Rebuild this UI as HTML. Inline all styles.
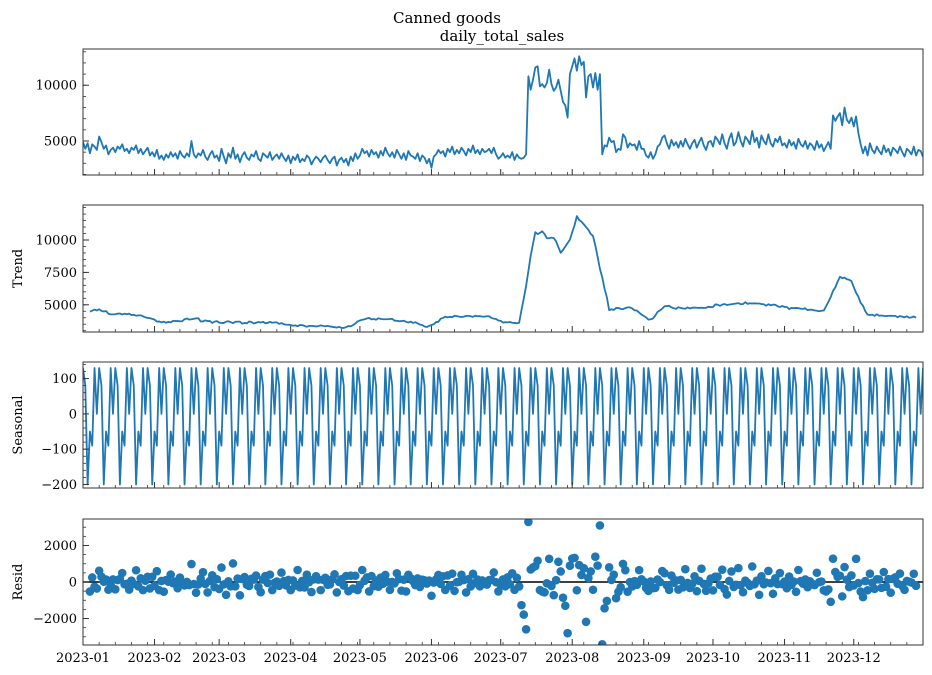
<!DOCTYPE html>
<html><head><meta charset="utf-8"><style>
body{margin:0;background:#fff}
svg{display:block;font-family:"DejaVu Serif","Liberation Serif",serif}
</style></head><body>
<svg id="c" width="932" height="675" viewBox="0 0 932 675">
<text x="447" y="23" font-size="15" text-anchor="middle">Canned goods</text>
<text x="502" y="41" font-size="15" text-anchor="middle">daily_total_sales</text>
</svg>
<script>
const observed = [
4900,4300,4800,3900,4700,4500,4200,5400,4900,4300,4600,3800,4200,4400,4000,4500,4300,4700,4100,4300,3900,4400,4200,4600,3900,4300,3800,4100,4400,3700,4000,
3600,4200,3400,3700,3300,3800,3500,4000,3600,3900,3400,4100,3700,3500,3900,3600,5000,3800,3500,3900,3700,4200,3600,3300,3800,4100,3500,3700,
3200,4300,3600,3000,3900,3500,4400,3400,3800,3100,3700,4000,3500,3300,3800,3600,4100,3400,3200,3900,3700,3500,4000,3300,3600,3800,3400,3900,3500,3200,3700,
3000,3600,3300,3800,3100,3400,3200,3700,3500,2900,3300,3600,3400,3100,3500,3700,3300,3000,3400,3600,2800,3300,3500,3100,3400,2800,3600,3200,3900,3400,
3700,4300,3900,4100,3600,4200,3800,4000,3500,4100,3700,4400,3900,3600,4000,3500,4200,3800,3400,3900,3300,4100,3700,3600,3400,3900,3200,3700,3500,3000,3400,
2600,3600,3800,4200,3900,4100,3600,4300,4000,4500,3800,4200,3900,4400,4100,3700,4300,4000,4600,3900,4200,3800,4300,4000,4100,4300,3900,4400,3800,3400,
3600,3900,3500,3700,3500,4000,3300,3800,3500,3400,3500,3800,10800,9600,10500,11600,11700,9900,10100,9800,10200,11400,10100,9500,9800,10500,9500,8500,8200,7100,11000,
11700,12400,11300,12600,11800,12100,8900,10800,11000,9800,11100,9600,11000,3800,4600,4500,5300,4900,5000,4000,4300,4200,5600,5300,4400,4800,4600,4700,4200,5000,4300,
4300,3700,3500,4000,3400,3800,4500,4700,5300,5500,4800,4300,5100,4600,4900,4400,5000,4500,5200,4700,4300,4800,5100,4400,4900,5300,4600,4200,4900,5000,
4500,5400,5100,4700,5600,4800,4300,5200,5700,4600,4900,5800,5000,4500,5400,5100,4700,5900,4900,5300,4400,5500,5000,4700,5600,4800,4500,5200,4900,5400,4600,
4800,4400,5100,4600,4900,4300,5200,4700,4500,5000,4300,4800,4600,4200,5000,4400,4700,4100,4500,4900,4300,7300,6800,7200,7500,6400,8000,6900,6600,7100,
6300,7200,5700,4700,3900,4500,3700,4800,4200,3900,4500,4100,3800,4600,4000,4300,3700,4400,4200,3900,4500,4000,3600,4300,4100,3800,4500,3700,4200,4100,3600
];
const seasonalPattern = [130,80,-200,-50,-90,130,0];
const monthLabels = ["2023-01","2023-02","2023-03","2023-04","2023-05","2023-06","2023-07","2023-08","2023-09","2023-10","2023-11","2023-12"];
const monthStartDays = [0,31,59,90,120,151,181,212,243,273,304,334];
const obsTicks = [5000,10000];
const trendTicks = [5000,7500,10000];
const seasTicks = [-200,-100,0,100];
const residTicks = [-2000,0,2000];

const N = observed.length;
const seasonal = observed.map((_, i) => seasonalPattern[i % 7]);
const trend = observed.map((_, i) => {
  if (i < 3 || i > N - 4) return null;
  let s = 0; for (let k = -3; k <= 3; k++) s += observed[i + k]; return s / 7;
});
const resid = observed.map((v, i) => trend[i] === null ? null : v - trend[i] - seasonal[i]);

const svg = document.getElementById('c');
const NS = 'http://www.w3.org/2000/svg';
function mk(tag, attrs, parent) {
  const e = document.createElementNS(NS, tag);
  for (const k in attrs) e.setAttribute(k, attrs[k]);
  (parent || svg).appendChild(e); return e;
}
const X0 = 83, X1 = 923;
const xs = d => X0 + d * (X1 - X0) / (N - 1);
const BLUE = '#1f77b4';

const panels = [
  {name:'observed', top:49, bot:175, min:1950, max:13250, ticks:obsTicks, minor:1000, label:null, data:observed, kind:'line'},
  {name:'trend', top:205, bot:332, min:2900, max:12700, ticks:trendTicks, minor:500, label:'Trend', data:trend, kind:'line'},
  {name:'seasonal', top:362, bot:488, min:-210, max:147, ticks:seasTicks, minor:20, label:'Seasonal', data:seasonal, kind:'line'},
  {name:'resid', top:519, bot:645, min:-3450, max:3450, ticks:residTicks, minor:500, label:'Resid', data:resid, kind:'scatter'}
];

panels.forEach((p, pi) => {
  const g = mk('g', {});
  
  
  const ys = v => p.bot - (v - p.min) / (p.max - p.min) * (p.bot - p.top);
  const cid = 'clip' + pi;
  const cp = mk('clipPath', {id: cid}, g);
  mk('rect', {x: X0, y: p.top, width: X1 - X0, height: p.bot - p.top}, cp);
  if (p.kind === 'line') {
    let d = '';
    p.data.forEach((v, i) => { if (v === null) return; d += (d ? 'L' : 'M') + xs(i).toFixed(2) + ' ' + ys(v).toFixed(2); });
    const path = mk('path', {d, fill: 'none', stroke: BLUE, 'stroke-width': 1.8, 'stroke-linejoin': 'round', 'clip-path': 'url(#' + cid + ')'}, g);
    
    
  } else {
    const zl = mk('line', {x1: X0, x2: X1, y1: ys(0), y2: ys(0), stroke: '#000', 'stroke-width': 1.6}, g);
    
    
    p.data.forEach((v, i) => {
      if (v === null) return;
      const c = mk('circle', {cx: xs(i), cy: ys(v), r: 4.3, fill: BLUE, 'clip-path': 'url(#' + cid + ')'}, g);
      
      
    });
  }
  const fr = mk('rect', {x: X0, y: p.top, width: X1 - X0, height: p.bot - p.top, fill: 'none', stroke: '#333', 'stroke-width': 1}, g);
  
  
  for (let v = Math.ceil(p.min / p.minor) * p.minor; v <= p.max; v += p.minor) {
    mk('line', {x1: X0, x2: X0 + 3, y1: ys(v), y2: ys(v), stroke: '#333', 'stroke-width': 0.8}, g);
  }
  p.ticks.forEach(v => {
    mk('line', {x1: X0, x2: X0 + 6, y1: ys(v), y2: ys(v), stroke: '#333', 'stroke-width': 1}, g);
    const t = mk('text', {x: X0 - 6, y: ys(v) + 4.5, 'font-size': 13, 'text-anchor': 'end'}, g);
    t.textContent = v < 0 ? '\u2212' + Math.abs(v) : String(v);
    
    
  });
  for (let d = 7; d < N; d += 7) mk('line', {x1: xs(d), x2: xs(d), y1: p.bot, y2: p.bot - 3, stroke: '#333', 'stroke-width': 0.8}, g);
  monthStartDays.forEach((d, mi) => {
    mk('line', {x1: xs(d), x2: xs(d), y1: p.bot, y2: p.bot - 6, stroke: '#333', 'stroke-width': 1}, g);
    if (pi === 3) {
      const t = mk('text', {x: xs(d), y: p.bot + 17, 'font-size': 13, 'text-anchor': 'middle'}, g);
      t.textContent = monthLabels[mi];
      
      
    }
  });
  if (p.label) {
    const cy = (p.top + p.bot) / 2;
    const t = mk('text', {x: 0, y: 0, 'font-size': 13, 'text-anchor': 'middle', transform: 'translate(22,' + cy + ') rotate(-90)'}, g);
    t.textContent = p.label;
    
    
  }
});
</script>
</body></html>
